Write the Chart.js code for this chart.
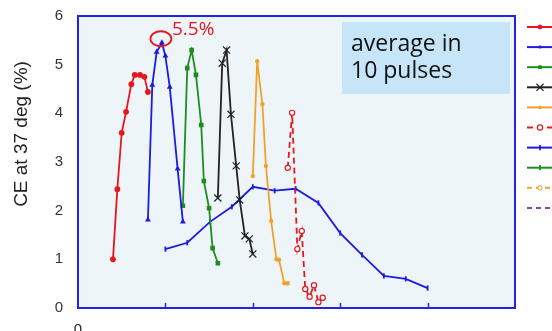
<!DOCTYPE html>
<html><head><meta charset="utf-8">
<script src="https://cdn.jsdelivr.net/npm/chart.js@4.4.1/dist/chart.umd.min.js"></script>
<style>html,body{margin:0;padding:0;background:#fff}#wrap{width:552px;height:331px}</style>
</head><body><div id="wrap"><canvas id="c" width="552" height="331"></canvas></div>
<script>
// ---- data ----
const xRedA = [0.40,0.45,0.50,0.55,0.61,0.65,0.71,0.76,0.80];
const yRedA = [1.00,2.44,3.60,4.03,4.60,4.79,4.79,4.75,4.44];
const xBlueA = [0.80,0.85,0.90,0.96,1.00,1.05,1.14,1.20];
const yBlueA = [1.81,4.58,5.26,5.45,5.18,4.54,2.86,1.77];
const xGreenA = [1.20,1.25,1.30,1.35,1.41,1.44,1.50,1.54,1.60];
const yGreenA = [2.10,4.93,5.30,4.79,3.76,2.61,2.05,1.23,0.92];
const xBlack = [1.60,1.65,1.70,1.75,1.81,1.85,1.91,1.96,2.00];
const yBlack = [2.26,5.03,5.30,3.98,2.92,2.22,1.48,1.42,1.11];
const xOrangeA = [2.00,2.05,2.11,2.15,2.21,2.27,2.30,2.36,2.40];
const yOrangeA = [2.71,5.07,4.19,2.92,1.79,1.00,0.99,0.51,0.51];
const xRedDash = [2.40,2.45,2.51,2.56,2.60,2.65,2.70,2.75,2.80];
const yRedDash = [2.88,4.01,1.21,1.58,0.39,0.23,0.47,0.12,0.21];
const xBlueB = [1.00,1.25,1.51,1.76,2.00,2.25,2.49,2.75,3.00,3.25,3.50,3.75,4.00];
const yBlueB = [1.21,1.34,1.77,2.08,2.49,2.41,2.45,2.16,1.54,1.09,0.66,0.60,0.41];
const yTicks = [0,1,2,3,4,5,6];
const xTickLabels = ['0'];
const peakLabel = '5.5%';
const boxLines = ['average in','10 pulses'];
const yTitle = 'CE at 37 deg (%)';

const pts = (xs, ys) => xs.map((x,i)=>({x:x,y:ys[i]}));

const C = {red:'#e8161b', blue:'#1c1ce0', green:'#1f8c1f', black:'#222222', orange:'#f0a22a', purple:'#7b4a9e'};

const datasets = [
 {data:pts(xRedA,yRedA), borderColor:C.red, backgroundColor:C.red, pointStyle:'circle', pointRadius:2},
 {data:pts(xBlueA,yBlueA), borderColor:C.blue, backgroundColor:C.blue, pointStyle:'triangle', pointRadius:1.6},
 {data:pts(xGreenA,yGreenA), borderColor:C.green, backgroundColor:C.green, pointStyle:'rect', pointRadius:2},
 {data:pts(xBlack,yBlack), borderColor:C.black, backgroundColor:C.black, pointStyle:'crossRot', pointRadius:5, pointBorderWidth:1.2},
 {data:pts(xOrangeA,yOrangeA), borderColor:C.orange, backgroundColor:C.orange, pointStyle:'circle', pointRadius:1.3},
 {data:pts(xRedDash,yRedDash), borderColor:C.red, backgroundColor:'#ffffff', borderDash:[6,4], pointStyle:'circle', pointRadius:2.6, pointBorderWidth:1.2},
 {data:pts(xBlueB,yBlueB), borderColor:C.blue, backgroundColor:C.blue, pointStyle:'line', pointRotation:90, pointRadius:2.6, pointBorderWidth:1.8},
 {data:[], borderColor:C.green, backgroundColor:C.green, pointStyle:'line', pointRotation:90, pointRadius:2.6, pointBorderWidth:1.8},
 {data:[], borderColor:C.orange, backgroundColor:'#ffffff', borderDash:[5,4], pointStyle:'circle', pointRadius:2.2, pointBorderWidth:1},
 {data:[], borderColor:C.purple, backgroundColor:C.purple, borderDash:[5,4], pointStyle:false, pointRadius:0}
].map(d=>Object.assign({borderWidth:1.8, tension:0, fill:false, showLine:true, pointBorderColor:d.borderColor}, d));

const decor = {
 id:'decor',
 beforeDraw(chart){
   const {ctx, chartArea:a} = chart;
   ctx.save(); ctx.fillStyle='#eef5f9'; ctx.fillRect(a.left,a.top,a.right-a.left,a.bottom-a.top); ctx.restore();
 },
 afterDraw(chart){
   const {ctx, chartArea:a, scales:{x,y}} = chart;
   ctx.save();
   // frame
   ctx.strokeStyle='#2323e6'; ctx.lineWidth=2;
   ctx.strokeRect(a.left,a.top,a.right-a.left,a.bottom-a.top);
   // inward ticks on bottom axis
   ctx.lineWidth=1.5;
   for(let v=1; v<5; v++){ const px=Math.round(x.getPixelForValue(v))+0.5; ctx.beginPath(); ctx.moveTo(px,a.bottom); ctx.lineTo(px,a.bottom-5); ctx.stroke(); }
   // text box
   ctx.fillStyle='#c6e5f8'; ctx.fillRect(342,22,168,72);
   ctx.fillStyle='#111'; ctx.font='23px "Open Sans", Lato, sans-serif'; ctx.textBaseline='middle'; ctx.textAlign='left';
   ctx.fillText(boxLines[0],351,44); ctx.fillText(boxLines[1],351,71);
   // peak marker
   const bp = chart.getDatasetMeta(1).data[3];
   ctx.strokeStyle=C.red; ctx.lineWidth=1.8;
   ctx.beginPath(); ctx.ellipse(bp.x-1, bp.y-4, 10.5, 7.5, 0, 0, Math.PI*2); ctx.stroke();
   ctx.fillStyle=C.red; ctx.font='19px "Open Sans", Lato, sans-serif'; ctx.textBaseline='middle';
   ctx.fillText(peakLabel, 172, 30);
   // y title
   ctx.translate(22,134); ctx.rotate(-Math.PI/2);
   ctx.fillStyle='#222'; ctx.font='19px "Liberation Sans", Arial, sans-serif'; ctx.textAlign='center';
   ctx.fillText(yTitle,0,0);
   ctx.restore();
   // legend samples
   ctx.save();
   chart.data.datasets.forEach((d,i)=>{
     const yy = 27 + i*20.1, x0=527, x1=553, xm=540;
     ctx.strokeStyle=d.borderColor; ctx.lineWidth=2; ctx.setLineDash(d.borderDash||[]);
     ctx.beginPath(); ctx.moveTo(x0,yy); ctx.lineTo(x1,yy); ctx.stroke();
     ctx.setLineDash([]);
     if(d.pointStyle){
       ctx.fillStyle=d.backgroundColor; ctx.strokeStyle=d.borderColor; ctx.lineWidth=d.pointBorderWidth||1;
       Chart.helpers.drawPoint(ctx,{pointStyle:d.pointStyle,radius:d.pointRadius,rotation:d.pointRotation||0,borderWidth:d.pointBorderWidth||1}, xm, yy);
     }
   });
   ctx.restore();
 }
};

new Chart(document.getElementById('c'), {
 type:'scatter',
 data:{datasets},
 plugins:[decor],
 options:{
   responsive:false, animation:false, devicePixelRatio:1,
   layout:{padding:{top:16,right:37,left:0,bottom:0}},
   plugins:{legend:{display:false}, tooltip:{enabled:false}},
   scales:{
     x:{type:'linear', min:0, max:5, border:{display:false}, grid:{display:false},
        ticks:{stepSize:1, padding:5, color:'#222', font:{size:15, family:'"Liberation Sans", Arial'}, maxRotation:0,
          callback:(v)=> v===0 ? xTickLabels[0] : ''},
        afterFit:(s)=>{s.height=23;}},
     y:{min:0, max:6, border:{display:false}, grid:{display:false},
        ticks:{stepSize:1, padding:7, color:'#333', font:{size:15, family:'"Liberation Sans", Arial'},
          callback:(v)=> yTicks.includes(v) ? String(v) : ''},
        afterFit:(s)=>{s.width=78;}}
   }
 }
});
</script></body></html>
